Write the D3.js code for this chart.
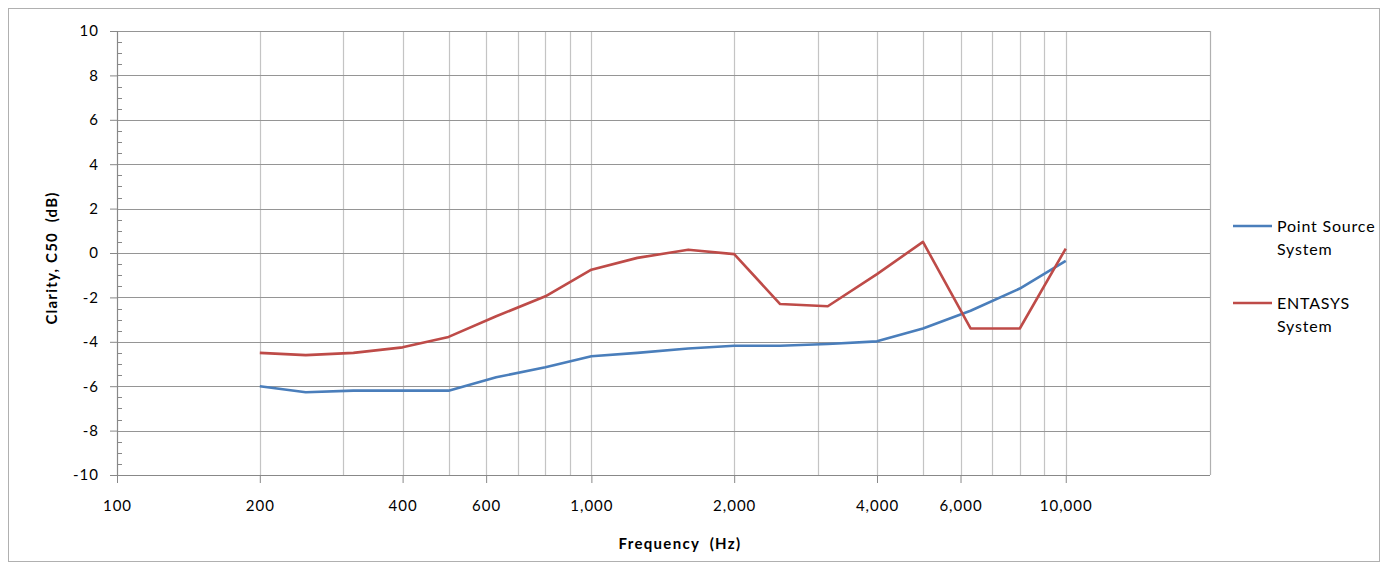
<!DOCTYPE html>
<html><head><meta charset="utf-8">
<script src="https://cdn.jsdelivr.net/npm/d3@7"></script>
<style>body{margin:0;background:#fff;} text{font-family:Lato,"Open Sans",sans-serif;}</style>
</head><body><svg id="c" width="1382" height="567"></svg>
<script>
const freqs = [200,250,315,400,500,630,800,1000,1250,1600,2000,2500,3150,4000,5000,6300,8000,10000];
const pointSource = [-6.0,-6.27,-6.2,-6.2,-6.2,-5.6,-5.15,-4.65,-4.5,-4.3,-4.18,-4.18,-4.1,-3.98,-3.4,-2.6,-1.6,-0.35];
const entasys = [-4.5,-4.6,-4.5,-4.25,-3.78,-2.85,-1.95,-0.75,-0.22,0.15,-0.05,-2.3,-2.4,-0.95,0.5,-3.4,-3.4,0.2];
const seriesNames = ["Point Source\nSystem","ENTASYS\nSystem"];
const xTickLabels = [100,200,400,600,1000,2000,4000,6000,10000];
const yTicks = [-10,-8,-6,-4,-2,0,2,4,6,8,10];
const xGrid = [200,300,400,500,600,700,800,900,1000,2000,3000,4000,5000,6000,7000,8000,9000,10000];

const svg = d3.select("#c");
const L=117, T=31, R=1210, B=475;
const x = d3.scaleLog().domain([100,20140]).range([L,R]);
const y = d3.scaleLinear().domain([-10,10]).range([B,T]);

svg.append("rect").attr("x",8.5).attr("y",8.5).attr("width",1371).attr("height",553).attr("fill","#fff").attr("stroke","#b0b0b0");

// vertical grid
svg.append("g").selectAll("line").data(xGrid).join("line")
  .attr("x1",d=>Math.round(x(d))+0.5).attr("x2",d=>Math.round(x(d))+0.5)
  .attr("y1",T).attr("y2",B).attr("stroke","#c4c4c4").attr("stroke-width",1.2);
// horizontal grid
svg.append("g").selectAll("line").data(yTicks).join("line")
  .attr("x1",L).attr("x2",R).attr("y1",d=>Math.round(y(d))+0.5).attr("y2",d=>Math.round(y(d))+0.5)
  .attr("stroke","#959595").attr("stroke-width",1.2);
svg.append("line").attr("x1",R+0.5).attr("x2",R+0.5).attr("y1",T).attr("y2",B).attr("stroke","#b0b0b0").attr("stroke-width",1.2);

// y axis
const yAxis = d3.axisLeft(y).tickValues(yTicks).tickSize(7).tickPadding(11).tickFormat(d3.format("d"));
const gy = svg.append("g").attr("transform",`translate(${L},0)`).call(yAxis);
gy.select(".domain").attr("stroke","#888").attr("stroke-width",1.2);
gy.selectAll(".tick line").attr("stroke","#888");
gy.selectAll("text").attr("font-size",15).attr("letter-spacing",1).attr("fill","#000").text(d=>d<0?"-"+Math.abs(d):d);
const minor = d3.range(-10,10.01,0.5).filter(v=>Math.abs(v%2)>0.01);
svg.append("g").selectAll("line").data(minor).join("line")
  .attr("x1",L).attr("x2",L+5).attr("y1",d=>Math.round(y(d))+0.5).attr("y2",d=>Math.round(y(d))+0.5)
  .attr("stroke","#888");

// x axis
const xAxis = d3.axisBottom(x).tickValues(xTickLabels).tickSize(8).tickPadding(17).tickFormat(d3.format(","));
const gx = svg.append("g").attr("transform",`translate(0,${B})`).call(xAxis);
gx.select(".domain").attr("stroke","#888").attr("stroke-width",1.2).attr("d",`M${L},0.5H${R}`);
gx.selectAll(".tick line").attr("stroke","#888");
gx.selectAll("text").attr("font-size",15).attr("letter-spacing",1).attr("fill","#000");

// lines
const colors = ["#4a7ebb","#be4b48"];
const data = [pointSource, entasys];
const line = d3.line().x((d,i)=>x(freqs[i])).y(d=>y(d));
data.forEach((s,k)=>{
  svg.append("path").datum(s).attr("d",line).attr("fill","none")
    .attr("stroke",colors[k]).attr("stroke-width",2.6).attr("stroke-linejoin","round");
});

// axis titles
svg.append("text").attr("x",680).attr("y",549).attr("text-anchor","middle").attr("font-size",15).attr("letter-spacing",1.3).attr("font-weight","bold").attr("xml:space","preserve").text("Frequency  (Hz)");
svg.append("text").attr("transform","translate(57,258) rotate(-90)").attr("text-anchor","middle").attr("font-size",15).attr("letter-spacing",1.2).attr("font-weight","bold").attr("xml:space","preserve").text("Clarity, C50  (dB)");

// legend
const legY = [226,303];
seriesNames.forEach((n,k)=>{
  const g = svg.append("g");
  g.append("line").attr("x1",1233).attr("x2",1272).attr("y1",legY[k]).attr("y2",legY[k]).attr("stroke",colors[k]).attr("stroke-width",2.6);
  n.split("\n").forEach((t,j)=>{
    g.append("text").attr("x",1277).attr("y",legY[k]+6+j*23).attr("font-size",16).attr("letter-spacing",0.8).attr("fill","#000").text(t);
  });
});
</script></body></html>
